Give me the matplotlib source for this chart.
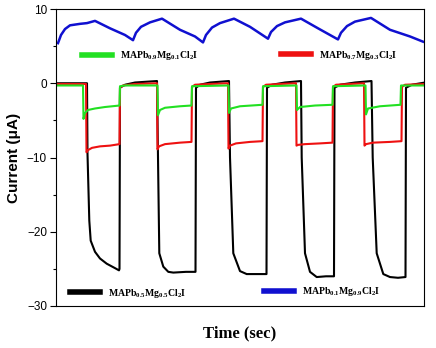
import matplotlib
matplotlib.use("Agg")
import matplotlib.pyplot as plt
from matplotlib.lines import Line2D
from matplotlib.ticker import MultipleLocator

# photocurrent response (time in s, current in uA)
t_mg01 = [0, 27, 27.5, 29, 32, 39, 49, 63.5, 64, 69, 101.5, 102, 104, 109, 124,
          135.5, 136, 172.5, 173, 175, 184, 206.5, 207, 240.5, 241, 244, 259,
          276.5, 277, 309.5, 310, 312, 324, 344.5, 345, 369]
i_mg01 = [-0.3, -0.3, -4.8, -4.0, -3.6, -3.4, -3.2, -3.0, -0.4, -0.3, -0.3, -4.3,
          -3.6, -3.3, -3.1, -3.0, -0.4, -0.3, -4.0, -3.4, -3.1, -2.9, -0.4, -0.3,
          -3.6, -3.2, -3.0, -2.9, -0.4, -0.3, -4.2, -3.4, -3.1, -2.9, -0.3, -0.3]

t_mg03 = [0, 30, 30.5, 32, 36, 44, 54, 63.5, 64, 67, 79, 101, 101.5, 103, 109,
          124, 135.5, 136, 139, 154, 172, 172.5, 174, 180, 194, 206.5, 207, 210,
          224, 240, 240.5, 242, 249, 264, 276.5, 277, 280, 294, 308, 308.5, 310,
          317, 334, 345.5, 346, 349, 369]
i_mg03 = [-0.1, -0.1, -9.3, -9.0, -8.7, -8.5, -8.4, -8.2, -0.6, -0.3, -0.1, 0.0,
          -8.9, -8.5, -8.2, -8.0, -7.9, -0.5, -0.2, -0.1, 0.0, -8.8, -8.4, -8.1,
          -7.9, -7.8, -0.5, -0.2, -0.1, 0.0, -8.4, -8.3, -8.2, -8.1, -8.0, -0.5,
          -0.2, -0.1, 0.0, -8.4, -8.2, -8.0, -7.9, -7.8, -0.5, -0.2, -0.1]

t_mg05 = [0, 31, 31.5, 33.3, 34.7, 39, 44, 50.7, 59, 63, 63.5, 64, 69, 79, 101,
          102, 103.3, 107.3, 112.3, 117.3, 130, 139.5, 140, 144, 154, 173, 174,
          177.3, 184, 190.7, 200, 210.5, 211, 216, 229, 245, 245.7, 249, 254,
          260.7, 270, 278, 278.5, 284, 299, 315.5, 316.7, 320.7, 327.3, 334, 342,
          349.5, 350, 356, 369]
i_mg05 = [0.0, 0.0, -9.5, -18.5, -21.2, -22.7, -23.6, -24.3, -24.9, -25.2, -25.0,
          -0.6, -0.2, 0.1, 0.3, -10.0, -22.9, -24.7, -25.4, -25.5, -25.4, -25.4,
          -0.6, -0.2, 0.1, 0.3, -10.0, -22.9, -25.3, -25.7, -25.7, -25.7, -0.6,
          -0.2, 0.1, 0.3, -10.0, -22.9, -25.4, -26.1, -26.0, -26.0, -0.6, -0.2,
          0.1, 0.3, -10.0, -22.9, -25.7, -26.1, -26.2, -26.1, -0.6, -0.2, 0.1]

t_mg09 = [2, 5, 9, 14, 24, 31, 39, 54, 69, 77, 80, 85, 94, 106, 124, 139, 147,
          150, 156, 164, 178, 194, 212, 215, 221, 229, 245, 262, 282, 285, 291,
          299, 315, 334, 354, 367]
i_mg09 = [5.4, 6.5, 7.3, 7.8, 8.0, 8.1, 8.4, 7.4, 6.5, 5.8, 6.8, 7.6, 8.2, 8.7,
          7.2, 6.3, 5.5, 6.5, 7.5, 8.1, 8.7, 7.6, 6.0, 6.9, 7.7, 8.2, 8.7, 7.4,
          5.9, 6.8, 7.7, 8.3, 8.8, 7.2, 6.3, 5.6]

labels = [r"MAPb$_{0.9}$Mg$_{0.1}$Cl$_2$I", r"MAPb$_{0.7}$Mg$_{0.3}$Cl$_2$I",
          r"MAPb$_{0.5}$Mg$_{0.5}$Cl$_2$I", r"MAPb$_{0.1}$Mg$_{0.9}$Cl$_2$I"]
colors = ["#22e022", "#ee1111", "black", "#1010d0"]

plt.rcParams["font.family"] = "Liberation Sans"
plt.rcParams["mathtext.fontset"] = "custom"
plt.rcParams["mathtext.rm"] = "Liberation Serif:bold"
plt.rcParams["mathtext.it"] = "Liberation Serif:bold"
plt.rcParams["mathtext.bf"] = "Liberation Serif:bold"

fig = plt.figure(figsize=(4.36, 3.48), dpi=100)
ax = fig.add_axes([56/436, 1-306/348, (424-56)/436, (306-9)/348])

ax.plot(t_mg05, i_mg05, color=colors[2], lw=1.5)
ax.plot(t_mg03, i_mg03, color=colors[1], lw=1.5)
ax.plot(t_mg01, i_mg01, color=colors[0], lw=1.5)
ax.plot(t_mg09, i_mg09, color=colors[3], lw=1.8)

ax.set_xlim(0, 368)
ax.set_ylim(-30, 10)
ax.yaxis.set_major_locator(MultipleLocator(10))
ax.yaxis.set_minor_locator(MultipleLocator(5))
ax.set_xticks([])
ax.tick_params(axis="y", which="major", length=4.5, width=0.8, labelsize=8.5, pad=2)
ax.tick_params(axis="y", which="minor", length=2.5, width=0.8)
for s in ax.spines.values():
    s.set_linewidth(0.8)

ax.set_ylabel("Current (μA)", fontsize=11, fontweight="bold", labelpad=4)
ax.set_xlabel("Time (sec)", fontsize=12, fontweight="bold",
              family="Liberation Serif", labelpad=14)

# legend entries placed like the original
spots = [(82, 56), (281, 55), (70, 293), (264, 292)]
for lab, col, (px, py) in zip(labels, colors, spots):
    h = Line2D([], [], color=col, lw=4)
    fig.legend([h], [lab], loc="center left",
               bbox_to_anchor=(px/436, 1-py/348),
               frameon=False, borderpad=0, borderaxespad=0,
               prop=dict(family="Liberation Serif", weight="bold", size=7),
               handlelength=3.1, handletextpad=0.8)

fig.savefig("out.png", dpi=100)
